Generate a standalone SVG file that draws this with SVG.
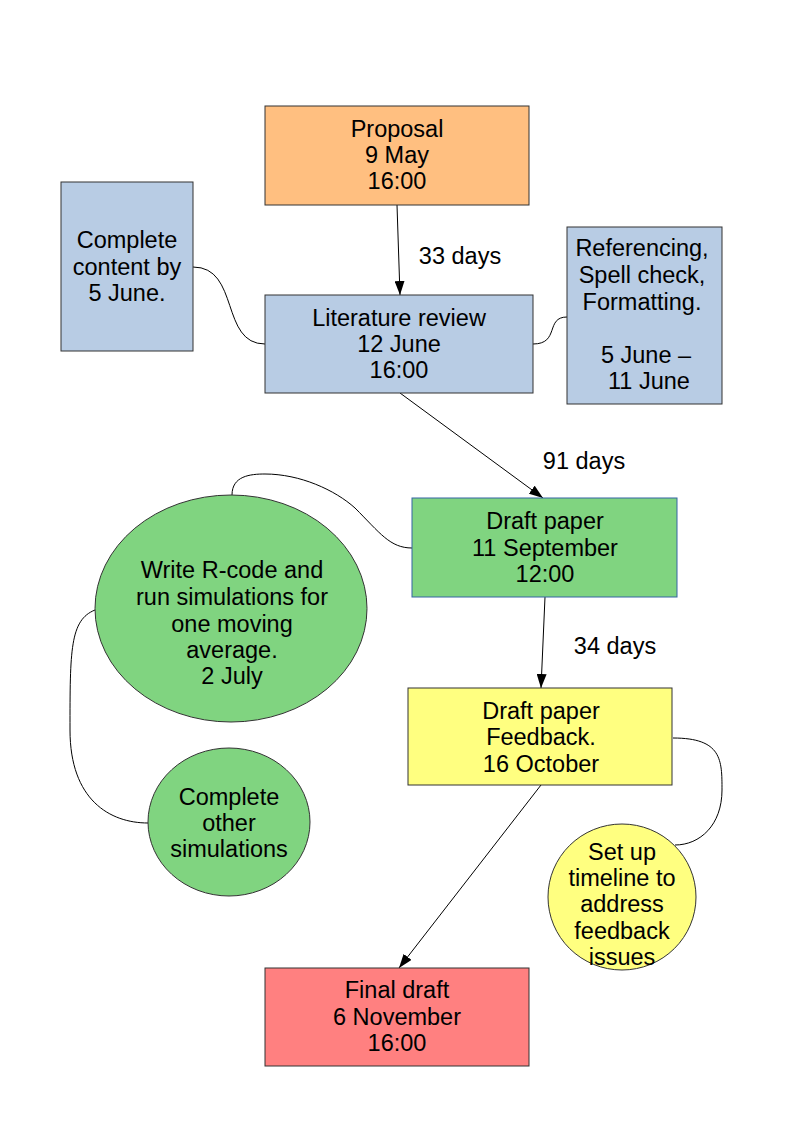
<svg xmlns="http://www.w3.org/2000/svg" width="794" height="1123" viewBox="0 0 794 1123">
<style>
text{font-family:"Liberation Sans",Arial,sans-serif;font-size:23.5px;fill:#000;text-anchor:middle}
.box{stroke:#333;stroke-width:1}
.con{fill:none;stroke:#000;stroke-width:1}
</style>
<defs>
<marker id="arr" markerUnits="userSpaceOnUse" markerWidth="14" markerHeight="10" refX="14" refY="5" orient="auto">
<path d="M0,0 L14,5 L0,10 z" fill="#000"/>
</marker>
</defs>
<rect width="794" height="1123" fill="#fff"/>
<g id="connectors">
<path class="con" d="M397,205 L400,295" marker-end="url(#arr)"/>
<path class="con" d="M400,393 L543,498" marker-end="url(#arr)"/>
<path class="con" d="M545,597 L541,688" marker-end="url(#arr)"/>
<path class="con" d="M541,785 L399,968" marker-end="url(#arr)"/>
<path class="con" d="M193,267 C240,267 220,344 265,344"/>
<path class="con" d="M533,344 C560,344 545,317 567,317"/>
<path class="con" d="M232,495 C232,476 250,474 265,474 C300,474 335,490 355,508 C380,533 390,548 412,548"/>
<path class="con" d="M95,610 C70,620 70,650 70,730 C70,800 110,823 148,823"/>
<path class="con" d="M673,738 C722,738 722,760 722,790 C722,825 700,845 675,845"/>
<text x="460" y="264">33 days</text>
<text x="584" y="469">91 days</text>
<text x="615" y="654">34 days</text>
</g>
<g id="proposal">
<rect class="box" x="265" y="106" width="264" height="99" fill="#ffbf80"/>
<text x="397" y="137">Proposal</text>
<text x="397" y="163">9 May</text>
<text x="397" y="189">16:00</text>
</g>
<g id="complete-content">
<rect class="box" x="61" y="182" width="132" height="169" fill="#b8cce4"/>
<text x="127" y="248">Complete</text>
<text x="127" y="275">content by</text>
<text x="127" y="301">5 June.</text>
</g>
<g id="literature-review">
<rect class="box" x="265" y="295" width="268" height="98" fill="#b8cce4"/>
<text x="399" y="326">Literature review</text>
<text x="399" y="352">12 June</text>
<text x="399" y="378">16:00</text>
</g>
<g id="referencing">
<rect class="box" x="567" y="227" width="155" height="177" fill="#b8cce4"/>
<text x="642" y="256">Referencing,</text>
<text x="642" y="283">Spell check,</text>
<text x="642" y="310">Formatting.</text>
<text x="646" y="363">5 June –</text>
<text x="649" y="389">11 June</text>
</g>
<g id="draft-paper">
<rect x="412" y="498" width="265" height="99" fill="#80d480" stroke="#3465a4" stroke-width="1"/>
<text x="545" y="529">Draft paper</text>
<text x="545" y="556">11 September</text>
<text x="545" y="582">12:00</text>
</g>
<g id="r-code">
<ellipse class="box" cx="231" cy="608.5" rx="136" ry="113.5" fill="#80d480"/>
<text x="232" y="578">Write R-code and</text>
<text x="232" y="605">run simulations for</text>
<text x="232" y="632">one moving</text>
<text x="232" y="658">average.</text>
<text x="232" y="684">2 July</text>
</g>
<g id="other-simulations">
<ellipse class="box" cx="229" cy="822" rx="81" ry="74" fill="#80d480"/>
<text x="229" y="805">Complete</text>
<text x="229" y="831">other</text>
<text x="229" y="857">simulations</text>
</g>
<g id="feedback">
<rect class="box" x="408" y="688" width="264" height="97" fill="#ffff80"/>
<text x="541" y="719">Draft paper</text>
<text x="541" y="745">Feedback.</text>
<text x="541" y="772">16 October</text>
</g>
<g id="timeline">
<ellipse class="box" cx="622" cy="897" rx="74" ry="73" fill="#ffff80"/>
<text x="622" y="860">Set up</text>
<text x="622" y="886">timeline to</text>
<text x="622" y="912">address</text>
<text x="622" y="939">feedback</text>
<text x="622" y="965">issues</text>
</g>
<g id="final-draft">
<rect class="box" x="265" y="968" width="264" height="98" fill="#ff8080"/>
<text x="397" y="998">Final draft</text>
<text x="397" y="1025">6 November</text>
<text x="397" y="1051">16:00</text>
</g>
</svg>
